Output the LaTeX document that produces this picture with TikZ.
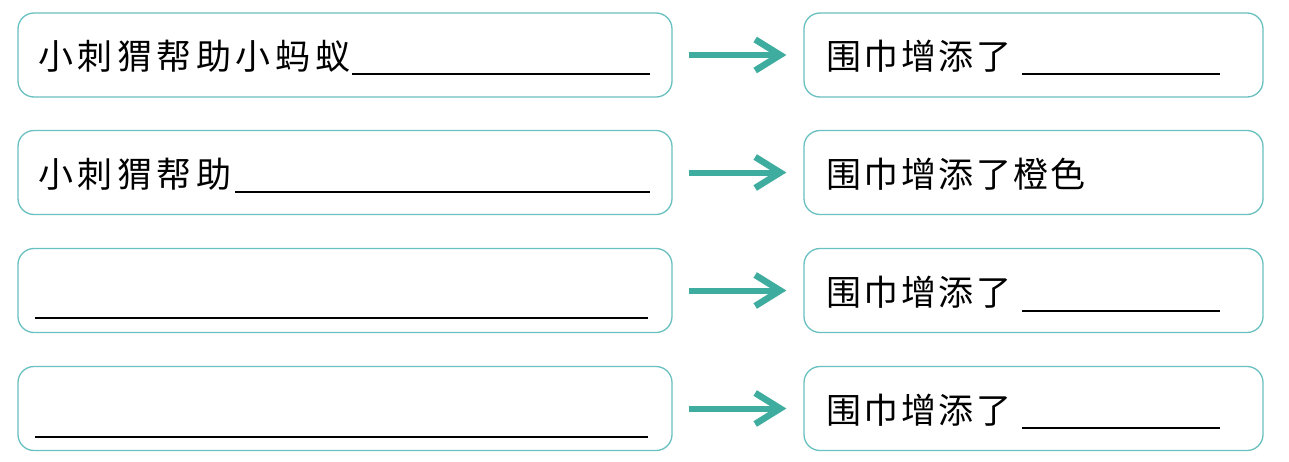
\documentclass[tikz,border=0pt]{standalone}
\usepackage{fontspec}
\newfontfamily\cjkL[LetterSpace=13]{Noto Sans CJK SC}
\newfontfamily\cjkR[LetterSpace=7]{Noto Sans CJK SC}
\usetikzlibrary{arrows.meta}
\definecolor{boxline}{RGB}{105,192,192}
\definecolor{arrcol}{RGB}{62,172,158}
\tikzset{
  lbox/.style={draw=boxline, line width=1.3pt, rounded corners=16pt, minimum width=654pt, minimum height=84pt, inner sep=0pt},
  rbox/.style={draw=boxline, line width=1.3pt, rounded corners=16pt, minimum width=459pt, minimum height=84pt, inner sep=0pt},
  ltxt/.style={anchor=base west, inner sep=0pt, font=\fontsize{35pt}{40pt}\cjkL},
  rtxt/.style={anchor=base west, inner sep=0pt, font=\fontsize{35pt}{40pt}\cjkR},
  blank/.style={line width=1.8pt, black},
  arr/.style={arrcol, line width=6pt, -{Straight Barb[length=25pt, width=31pt, line width=6.5pt]}}
}
\begin{document}
\begin{tikzpicture}[x=1pt,y=-1pt]
\useasboundingbox[fill=white] (0,0) rectangle (1289,461);
% row 1
\node[lbox] (L1) at (345,55) {};
\node[rbox] (R1) at (1033.5,55) {};
\node[ltxt] (t1) at (38,69.5) {小刺猬帮助小蚂蚁};
\node[rtxt] (u1) at (826,69.5) {围巾增添了};
\draw[blank] (352,74) -- (650,74);
\draw[blank] (1022,74) -- (1220,74);
\draw[arr] ([xshift=16pt]L1.east) -- ([xshift=-17pt]R1.west);
% row 2
\node[lbox] (L2) at (345,172.5) {};
\node[rbox] (R2) at (1033.5,172.5) {};
\node[ltxt] (t2) at (38,187) {小刺猬帮助};
\node[rtxt] (u2) at (826,187) {围巾增添了橙色};
\draw[blank] (235,192) -- (650,192);
\draw[arr] ([xshift=16pt]L2.east) -- ([xshift=-17pt]R2.west);
% row 3
\node[lbox] (L3) at (345,290.5) {};
\node[rbox] (R3) at (1033.5,290.5) {};
\node[rtxt] (u3) at (826,305) {围巾增添了};
\draw[blank] (35,318) -- (648,318);
\draw[blank] (1022,311) -- (1220,311);
\draw[arr] ([xshift=16pt]L3.east) -- ([xshift=-17pt]R3.west);
% row 4
\node[lbox] (L4) at (345,408.5) {};
\node[rbox] (R4) at (1033.5,408.5) {};
\node[rtxt] (u4) at (826,423) {围巾增添了};
\draw[blank] (35,437) -- (648,437);
\draw[blank] (1022,428) -- (1220,428);
\draw[arr] ([xshift=16pt]L4.east) -- ([xshift=-17pt]R4.west);
\end{tikzpicture}
\end{document}
